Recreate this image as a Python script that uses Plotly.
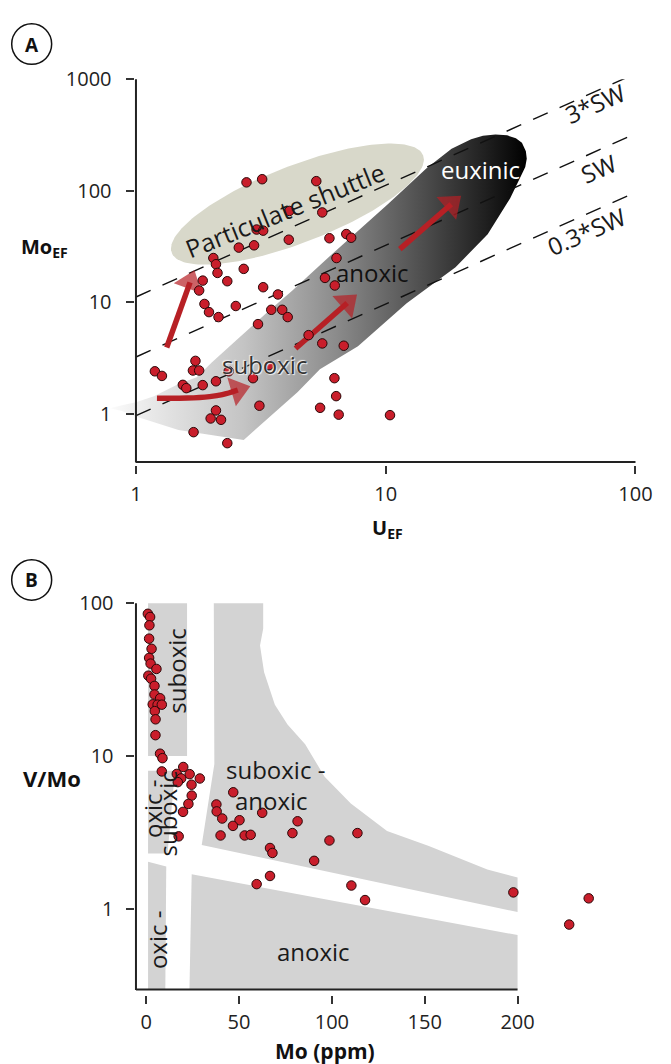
import numpy as np
import plotly.graph_objects as go

W, H = 671, 1064
FONT = "Open Sans"
RED = "#c91e2b"
ARROW_RED = "#b72025"
GREY = "#d3d3d3"

# ---------------- Panel A: Mo_EF vs U_EF ----------------
u_ef = [2.77, 3.20, 5.27, 4.11, 5.57, 3.04, 3.23, 4.09, 5.95, 6.95,
        7.27, 2.58, 2.97, 2.04, 2.09, 2.12, 2.70, 6.35, 1.85, 2.32,
        1.79, 3.23, 3.70, 5.71, 6.25, 1.88, 2.51, 1.96, 2.14, 3.48,
        3.85, 4.05, 3.08, 4.91, 5.57, 6.79, 1.19, 1.27, 1.73, 1.69,
        1.79, 2.35, 3.41, 2.94, 1.54, 1.59, 1.85, 2.09, 3.12, 2.09,
        1.99, 2.19, 1.70, 2.32, 6.23, 6.33, 5.46, 6.48, 10.4]
mo_ef = [119, 127, 122, 66, 64, 45, 44, 36.5, 37.6, 41,
         38, 31, 32.5, 25, 22, 18.4, 20, 25, 15.7, 15.5,
         12.8, 13.7, 11.8, 16.6, 14.2, 9.7, 9.3, 8.2, 7.4, 8.6,
         8.6, 7.4, 6.4, 5.1, 4.3, 4.1, 2.42, 2.2, 3.0, 2.46,
         2.46, 2.42, 2.75, 2.1, 1.83, 1.71, 1.82, 1.97, 1.19, 1.08,
         0.915, 0.89, 0.69, 0.55, 2.1, 1.45, 1.14, 0.99, 0.98]

# Mo/U seawater reference lines (Mo_EF = ratio * U_EF)
sw_ratios = [11.2, 3.25, 0.97]
sw_u_span = [1.0, 100.0]

# suboxic -> anoxic -> euxinic field (outline in U_EF, Mo_EF)
band_u = [0.788, 0.878, 1.0, 1.479, 2.70, 3.38, 4.43, 5.45, 7.74, 12.13,
          19.03, 25.6, 31.5, 34.4, 36.2, 36.7, 36.4, 35.1, 33.2, 30.6,
          27.5, 24.5, 21.97, 18.35, 14.53, 10.14, 7.46, 5.70, 4.24, 3.32,
          2.54, 2.01, 1.75, 1.48, 1.18, 1.0, 0.878]
band_mo = [1.13, 1.065, 0.952, 0.721, 0.588, 0.915, 1.574, 2.53, 4.06, 9.82,
           20.7, 40.8, 85.9, 128.9, 163.6, 193.7, 226.5, 269.3, 295, 313.7,
           320, 310.5, 289, 237.4, 158.1, 75.1, 40.8, 23.7, 12.9, 8.01,
           4.65, 2.90, 2.14, 1.86, 1.45, 1.28, 1.20]

# particulate shuttle field: ellipse in log10 space
shuttle_center = (4.43, 76.0)           # U_EF, Mo_EF
shuttle_axis1 = (0.5035, 0.4364)        # decades (U, Mo)
shuttle_axis2 = (0.0545, -0.3220)

# trend arrows (tail ... head) in U_EF, Mo_EF
arrows_a = [
    ([1.213, 1.604, 1.972, 2.217, 2.557], [1.387, 1.393, 1.436, 1.496, 1.646]),
    ([1.327, 1.646], [3.956, 15.14]),
    ([4.352, 7.01], [3.876, 9.90]),
    ([11.39, 18.29], [30.06, 75.86]),
]

# ---------------- Panel B: V/Mo vs Mo ----------------
mo_ppm = [0.89, 2.10, 1.73, 1.57, 2.89, 1.57, 2.36, 5.51, 1.15, 2.62,
          4.46, 4.46, 7.51, 3.52, 6.14, 8.40, 4.62, 5.04, 4.99, 7.45,
          8.77, 8.40, 19.95, 16.48, 23.41, 18.85, 28.87, 17.01, 24.41, 24.51,
          22.73, 19.84, 17.48, 37.80, 37.95, 46.88, 62.47, 40.94, 50.24, 46.72,
          81.52, 40.05, 53.02, 56.27, 78.74, 98.69, 113.75, 66.67, 67.98, 90.45,
          66.67, 59.48, 110.5, 117.85, 197.74, 227.8, 238.3]
v_mo = [85.4, 81.4, 71.8, 58.7, 50.4, 43.9, 40.3, 37.2, 33.6, 32.1,
        28.8, 25.3, 23.9, 21.8, 21.7, 21.7, 19.7, 17.4, 13.7, 10.36,
        9.69, 7.93, 8.48, 7.64, 7.61, 7.14, 7.13, 6.75, 6.49, 5.51,
        4.86, 4.31, 2.98, 4.82, 4.34, 5.79, 4.25, 3.90, 3.80, 3.49,
        3.74, 3.02, 3.02, 3.05, 3.13, 2.80, 3.13, 2.50, 2.32, 2.06,
        1.64, 1.45, 1.42, 1.14, 1.28, 0.788, 1.17]

VMO_FLOOR = 0.296
zone_suboxic = ([1, 22, 22, 1], [10, 10, 100, 100])
zone_oxic_suboxic = ([1, 15.5, 11.5, 1], [8.0, 8.0, 2.3, 2.3])
zone_oxic = ([1, 10.8, 10.3, 1], [2.03, 1.89, VMO_FLOOR, VMO_FLOOR])
zone_sub_anoxic = ([36.4, 63.0, 63.0, 61.3, 63.5, 69.3, 76.1, 85.6, 96.1, 110.2,
                    129.7, 152.2, 183.7, 200, 200, 29.9, 36.7],
                   [100, 100, 68.1, 52.9, 35.4, 21.7, 16.1, 11.95, 7.31, 4.89,
                    3.23, 2.58, 1.81, 1.60, 0.952, 2.62, 8.87])
zone_anoxic = ([24.5, 200, 200, 23.3], [1.68, 0.673, VMO_FLOOR, VMO_FLOOR])

b_ticks = [0, 50, 100, 150, 200]


def px(xp):
    return xp / W


def py(yp):
    return 1 - yp / H


fig = go.Figure()

# --- Panel A layers ---
t = np.linspace(0, 2 * np.pi, 181)
lu = np.log10(shuttle_center[0]) + shuttle_axis1[0] * np.cos(t) + shuttle_axis2[0] * np.sin(t)
lm = np.log10(shuttle_center[1]) + shuttle_axis1[1] * np.cos(t) + shuttle_axis2[1] * np.sin(t)
fig.add_trace(go.Scatter(x=10 ** lu, y=10 ** lm, mode="lines", fill="toself",
                         fillcolor="#d8d8ca", line=dict(width=0), hoverinfo="skip",
                         xaxis="x", yaxis="y"))

fig.add_trace(go.Scatter(
    x=band_u, y=band_mo, mode="lines", fill="toself", line=dict(width=0),
    fillgradient=dict(type="horizontal", colorscale=[
        [0, "#fbfbfb"], [0.1, "#e8e8e8"], [0.32, "#c4c4c4"], [0.54, "#8c8c8c"],
        [0.72, "#575757"], [0.9, "#202020"], [1, "#000000"]]),
    hoverinfo="skip", xaxis="x", yaxis="y"))

for r in sw_ratios:
    fig.add_trace(go.Scatter(x=sw_u_span, y=[r * u for u in sw_u_span], mode="lines",
                             line=dict(color="#111", width=1.4, dash="16px,13px"),
                             hoverinfo="skip", xaxis="x", yaxis="y"))

for au, am in arrows_a:
    n = len(au)
    fig.add_trace(go.Scatter(
        x=au, y=am, mode="lines+markers",
        line=dict(color=ARROW_RED, width=5.5, shape="spline" if n > 2 else "linear"),
        marker=dict(symbol="triangle-up", size=[0] * (n - 1) + [26], color=ARROW_RED,
                    angleref="previous", line=dict(width=0)),
        hoverinfo="skip", xaxis="x", yaxis="y"))

fig.add_trace(go.Scatter(x=u_ef, y=mo_ef, mode="markers",
                         marker=dict(size=9.5, color=RED, line=dict(color="#2a0808", width=1)),
                         xaxis="x", yaxis="y"))

# --- Panel B layers ---
for zx, zy in [zone_suboxic, zone_oxic_suboxic, zone_oxic, zone_sub_anoxic, zone_anoxic]:
    fig.add_trace(go.Scatter(x=zx, y=zy, mode="lines", fill="toself", fillcolor=GREY,
                             line=dict(width=0), hoverinfo="skip", xaxis="x2", yaxis="y2"))

fig.add_trace(go.Scatter(x=mo_ppm, y=v_mo, mode="markers",
                         marker=dict(size=9.5, color=RED, line=dict(color="#2a0808", width=1)),
                         xaxis="x2", yaxis="y2"))

tickfont = dict(family=FONT, size=20, color="#222")
common = dict(showgrid=False, zeroline=False, showline=False, ticks="outside",
              ticklen=8, tickwidth=1.5, tickcolor="#333", tickfont=tickfont)

fig.update_layout(
    width=W, height=H, margin=dict(l=0, r=0, t=0, b=0),
    paper_bgcolor="white", plot_bgcolor="rgba(0,0,0,0)", showlegend=False,
    xaxis=dict(type="log", range=[-0.1348, 2.0], domain=[px(105), px(652)], anchor="y",
               tickvals=[1, 10, 100], ticktext=["1", "10", "100"], ticklabelstandoff=3,
               **common),
    yaxis=dict(type="log", range=[-0.4551, 3.0], domain=[py(457), py(66)], anchor="free",
               position=px(137), tickvals=[1, 10, 100, 1000],
               ticktext=["1", "10", "100", "1000"], ticklabelstandoff=10, **common),
    xaxis2=dict(range=[-5.25, 257.2], domain=[px(140), px(640)], anchor="y2",
                tickvals=b_ticks, ticktext=[str(v) for v in b_ticks], ticklabelstandoff=1,
                **common),
    yaxis2=dict(type="log", range=[-0.5641, 2.0465], domain=[py(994), py(590)],
                anchor="free", position=px(137), tickvals=[1, 10, 100],
                ticktext=["1", "10", "100"], ticklabelstandoff=8, **common),
)

# axis lines and panel tags
axis_line = dict(color="#222", width=2)
shapes = [
    dict(type="line", xref="paper", yref="paper", x0=px(139.5), x1=px(139.5), y0=py(66), y1=py(454.5), line=axis_line),
    dict(type="line", xref="paper", yref="paper", x0=px(139.5), x1=px(652), y0=py(454), y1=py(454), line=axis_line),
    dict(type="line", xref="paper", yref="paper", x0=px(139.5), x1=px(139.5), y0=py(597), y1=py(989), line=axis_line),
    dict(type="line", xref="paper", yref="paper", x0=px(139.5), x1=px(531), y0=py(988.5), y1=py(988.5), line=axis_line),
    dict(type="circle", xref="paper", yref="paper", x0=px(12), x1=px(53), y0=py(51), y1=py(10),
         line=dict(color="#111", width=1.5)),
    dict(type="circle", xref="paper", yref="paper", x0=px(12), x1=px(53), y0=py(594), y1=py(553),
         line=dict(color="#111", width=1.5)),
]
fig.update_layout(shapes=shapes)


def label(text, x, y, size=24, color="#1a1a1a", angle=0, xanchor="center", bold=False, **kw):
    if bold:
        text = "<b>" + text + "</b>"
    fig.add_annotation(text=text, x=px(x), y=py(y), xref="paper", yref="paper",
                       showarrow=False, textangle=angle, xanchor=xanchor, yanchor="middle",
                       font=dict(family=FONT, size=size, color=color, **kw))


# panel tags
label("A", 32.5, 31, size=19, bold=True, color="#111")
label("B", 32.5, 574, size=19, bold=True, color="#111")

# axis titles
label("<b>Mo</b><sub><b>EF</b></sub>", 20, 237, size=20, xanchor="left", color="#111")
label("<b>U</b><sub><b>EF</b></sub>", 398, 521, size=20, color="#111")
label("V/Mo", 22, 774, size=22, xanchor="left", bold=True, color="#111")
label("Mo (ppm)", 333, 1051, size=21, bold=True, color="#111")

# panel A field names
label("Particulate shuttle", 292, 199, size=25, angle=-22)
label("euxinic", 492.5, 157.5, color="white")
label("anoxic", 381.7, 262, color="#111")
label("suboxic", 271.7, 355, color="#333",
      shadow="1px 1px 1px #f4f4f4, -1px -1px 1px #f4f4f4")
label("3*SW", 610, 91, angle=-23.7)
label("SW", 614, 157, angle=-23.7)
label("0.3*SW", 601, 220, angle=-23.7)

# panel B zone names
label("suboxic", 181, 666, angle=-90)
label("suboxic -", 283, 766)
label("anoxic", 279, 797)
label("oxic -", 156.5, 805, angle=-90)
label("suboxic", 171.5, 811, angle=-90)
label("oxic -", 161.5, 938, angle=-90)
label("anoxic", 321.7, 950)

fig.write_html("out.html")
